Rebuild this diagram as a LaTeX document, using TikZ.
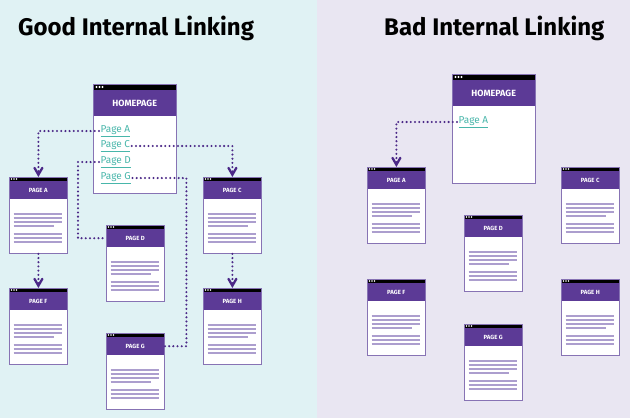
\documentclass[tikz,border=0pt]{standalone}
\usepackage{fontspec}
\setmainfont{Fira Sans}
\usetikzlibrary{arrows, calc}
\definecolor{bgleft}{RGB}{224,242,244}
\definecolor{bgright}{RGB}{233,230,242}
\definecolor{hdpurple}{RGB}{92,58,150}
\definecolor{edgepurple}{RGB}{135,115,180}
\definecolor{txtline}{RGB}{172,158,206}
\definecolor{dotpurple}{RGB}{75,40,135}
\definecolor{linkteal}{RGB}{72,182,170}
\tikzstyle{win} = [draw=edgepurple, line width=0.8pt, fill=white, minimum width=58pt, minimum height=76pt, inner sep=0pt, anchor=north west]
\tikzstyle{header} = [fill=hdpurple, text=white, inner sep=0pt, anchor=north west, font=\bfseries\fontsize{6}{7}\selectfont]
\tikzstyle{pagelink} = [text=linkteal, inner sep=1.5pt, anchor=west, font=\fontsize{10}{11}\selectfont]
\tikzstyle{link} = [dotpurple, line width=2.3pt, line cap=round, dash pattern=on 0pt off 4.2pt]
\tikzstyle{arrow} = [link, ->, >=angle 60]
\tikzstyle{title} = [anchor=base west, inner sep=0pt, font=\bfseries\fontsize{24}{28}\selectfont]

\newcommand{\pagewin}[4]{
\node[win] (#1) at (#2,#3) {};
\fill[black] (#2,#3) rectangle ++(58,4);
\foreach \dx in {2.5,5,7.5} \fill[white] (#2+\dx,#3+2) circle (0.9pt);
\node[header, minimum width=58pt, minimum height=18pt] (#1h) at (#2,#3+4) {#4};
\foreach \ly/\lw in {37/48,41/48,45/48,49/40,57/48,61/48,65/48}
  \draw[txtline, line width=1.2pt] (#2+4.5,#3+\ly) -- ++(\lw,0);
\draw[edgepurple, line width=0.8pt] (#1.north west) rectangle (#1.south east);
}

\newcommand{\homewin}[3]{
\node[win, minimum width=83pt, minimum height=109pt] (#1) at (#2,#3) {};
\fill[black] (#2,#3) rectangle ++(83,6);
\foreach \dx in {3.5,6.5,9.5} \fill[white] (#2+\dx,#3+3) circle (1.1pt);
\node[header, minimum width=83pt, minimum height=26pt, font=\bfseries\fontsize{9}{10}\selectfont] (#1h) at (#2,#3+6) {HOMEPAGE};
\draw[edgepurple, line width=0.8pt] (#1.north west) rectangle (#1.south east);
}

\begin{document}
\begin{tikzpicture}[x=1pt, y=-1pt]

\fill[bgleft] (0,0) rectangle (317,418);
\fill[bgright] (317,0) rectangle (630,418);

\node[title] (tgood) at (18,35) {Good Internal Linking};
\node[title] (tbad) at (384,35) {Bad Internal Linking};

\homewin{home}{93}{84}
\node[pagelink] (hlA) at (99,131) {\underline{Page A}};
\node[pagelink] (hlC) at (99,146) {\underline{Page C}};
\node[pagelink] (hlD) at (99,162) {\underline{Page D}};
\node[pagelink] (hlG) at (99,178) {\underline{Page G}};

\pagewin{pA}{9}{177}{PAGE A}
\pagewin{pC}{203}{177}{PAGE C}
\pagewin{pD}{106}{225}{PAGE D}
\pagewin{pF}{9}{288}{PAGE F}
\pagewin{pH}{203}{288}{PAGE H}
\pagewin{pG}{106}{333}{PAGE G}

\draw[arrow] (hlA.west) -| (pA.north);
\draw[arrow] (hlC.east) -| (pC.north);
\draw[link] (hlD.west) -- ++(-21,0) |- (pDh.west);
\draw[link] (hlG.east) -| ($(pGh.east)+(22,0)$) -- (pGh.east);
\draw[arrow] (pA.south) -- (pF.north);
\draw[arrow] (pC.south) -- (pH.north);

\homewin{rhome}{452}{74}
\node[pagelink] (rhA) at (457,122) {\underline{Page A}};

\pagewin{rA}{367}{167}{PAGE A}
\pagewin{rC}{561}{167}{PAGE C}
\pagewin{rD}{464}{215}{PAGE D}
\pagewin{rF}{367}{279}{PAGE F}
\pagewin{rH}{561}{279}{PAGE H}
\pagewin{rG}{464}{324}{PAGE G}

\draw[arrow] (rhA.west) -| (rA.north);

\end{tikzpicture}
\end{document}
